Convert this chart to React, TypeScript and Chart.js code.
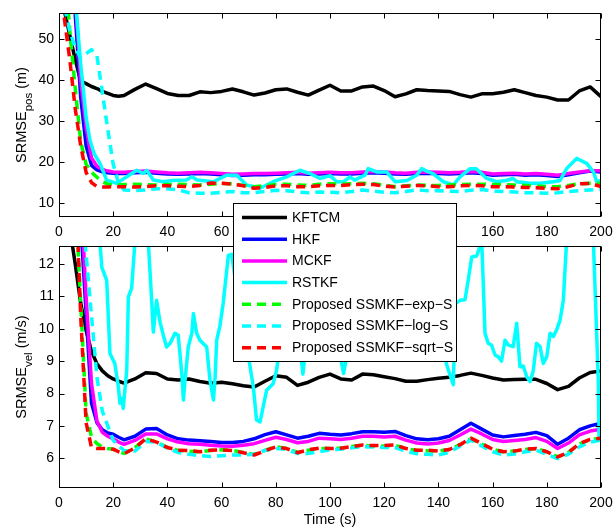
import React, { useEffect, useRef } from "react";
import { Chart, registerables } from "chart.js";

Chart.register(...registerables);

// ---------------- data ----------------
const TIME = [0, 2, 4, 6, 8, 10, 12, 14, 16, 18, 20, 22, 24, 28, 32, 36, 40, 44, 48, 52, 56, 60, 64, 68, 72, 76, 80, 84, 88, 92, 96, 100, 104, 108, 112, 116, 120, 124, 128, 132, 136, 140, 144, 148, 152, 156, 160, 164, 168, 172, 176, 180, 184, 188, 192, 196, 200];

const X_TICKS = [0, 20, 40, 60, 80, 100, 120, 140, 160, 180, 200];
const POS_TICKS = [10, 20, 30, 40, 50];
const VEL_TICKS = [6, 7, 8, 9, 10, 11, 12];

const SERIES_NAMES = ["KFTCM", "HKF", "MCKF", "RSTKF", "Proposed SSMKF\u2212exp\u2212S", "Proposed SSMKF\u2212log\u2212S", "Proposed SSMKF\u2212sqrt\u2212S"];

// position (m)
const KFTCM_POS = [62, 57, 51, 45, 39.8, 39.2, 38.5, 38, 37.3, 36.8, 36.3, 36.1, 36.3, 37.8, 39.1, 38, 36.8, 36.3, 36.3, 37.2, 37.0, 37.3, 37.9, 37.2, 36.4, 36.9, 37.7, 37.9, 37.1, 36.4, 37.6, 38.8, 37.4, 37.4, 38.4, 38.6, 37.5, 36.0, 36.7, 37.7, 37.5, 37.4, 37.3, 36.5, 35.9, 36.7, 36.7, 37.1, 37.7, 37.0, 36.3, 35.9, 35.2, 35.2, 37.4, 38.4, 36.0];
const HKF_POS = [150, 110, 75, 56, 36, 24, 19.2, 18.1, 17.6, 17.4, 17.3, 17.2, 17.2, 17.4, 17.5, 17.3, 17.1, 17.0, 17.1, 17.2, 17.1, 16.9, 16.7, 16.8, 16.9, 16.9, 17.0, 17.1, 17.2, 17.0, 17.1, 17.2, 17.1, 17.1, 17.3, 17.4, 17.3, 17.1, 17.0, 17.2, 17.3, 17.2, 17.1, 17.2, 17.4, 17.2, 16.8, 16.9, 17.0, 16.8, 16.9, 16.7, 16.5, 16.9, 17.4, 17.8, 17.6];
const MCKF_POS = [160, 120, 82, 60, 40, 28.5, 21, 19, 18.2, 17.8, 17.6, 17.5, 17.5, 17.7, 17.8, 17.6, 17.4, 17.3, 17.4, 17.5, 17.4, 17.2, 17.0, 17.1, 17.2, 17.2, 17.3, 17.4, 17.5, 17.3, 17.4, 17.5, 17.4, 17.4, 17.6, 17.7, 17.6, 17.4, 17.3, 17.5, 17.6, 17.5, 17.4, 17.5, 17.7, 17.5, 17.1, 17.2, 17.3, 17.1, 17.2, 17.0, 16.8, 17.2, 17.6, 17.9, 17.9];
const RSTKF_POS_TIME = [0, 4, 6, 8, 10, 11.4, 13, 15.1, 17.6, 21.3, 25, 28.7, 31.1, 32.4, 34.8, 38.5, 42, 47, 49, 51, 57, 61.9, 65.6, 69.2, 74.2, 79, 84, 88.9, 92.6, 96.3, 100, 102.5, 105, 107.4, 109, 112.9, 114.1, 117.2, 120.9, 124, 128.4, 132, 133.8, 136.3, 138, 141.8, 145.5, 148, 151.7, 154, 157.8, 161.5, 165, 167.6, 169, 173.8, 177.5, 182.4, 184.9, 187.3, 191, 194.7, 197.2, 198.4, 200];
const RSTKF_POS = [150, 80, 60, 44, 31, 25.4, 22, 19.7, 15.6, 14.8, 16.4, 18, 17.2, 18, 15.6, 15.2, 15.5, 15.6, 16.4, 15.6, 15.2, 16.8, 16.8, 14.4, 13.6, 15.2, 16.4, 18, 17.2, 16, 16.7, 15.2, 15.2, 16.4, 15.6, 16.8, 18.4, 17.6, 17.6, 15.2, 15.5, 16.8, 18.4, 17.6, 17.2, 15.2, 14.4, 16.4, 18.4, 18.4, 16, 15.2, 15.5, 16, 15.2, 14.8, 14.8, 15.2, 15.5, 18.4, 20.9, 19.7, 17.6, 15.2, 15.5];
const EXP_POS = [90, 70, 52, 38, 25, 19.5, 17.5, 16.3, 15.2, 14.6, 14.4, 14.4, 14.5, 14.6, 14.5, 14.4, 14.5, 14.6, 14.5, 14.4, 14.6, 14.8, 14.7, 14.3, 14.0, 14.2, 14.5, 14.6, 14.4, 14.3, 14.6, 14.7, 14.6, 14.7, 14.8, 14.7, 14.4, 14.0, 14.2, 14.4, 14.3, 14.3, 14.4, 14.5, 14.6, 14.6, 14.5, 14.5, 14.4, 14.3, 14.1, 14.0, 14.0, 14.3, 14.7, 14.8, 14.8];
const LOG_POS = [65, 58, 52, 48, 45.5, 46.5, 47.5, 46, 37, 28, 19.5, 14.8, 13.2, 13.0, 13.2, 13.5, 13.5, 13.2, 12.5, 12.4, 12.4, 12.6, 12.8, 12.5, 12.5, 12.8, 13.1, 13.0, 12.7, 12.5, 12.7, 12.6, 12.5, 12.8, 13.2, 12.9, 12.6, 12.5, 12.8, 13.2, 13.0, 13.0, 12.9, 12.8, 13.1, 13.3, 12.9, 12.8, 12.7, 12.5, 12.5, 12.4, 12.5, 12.8, 13.0, 13.2, 13.3];
const SQRT_POS = [70, 55, 45, 33, 24, 17.5, 15, 14.0, 13.9, 13.9, 14.0, 14.0, 14.0, 13.9, 14.0, 14.2, 14.2, 14.1, 14.0, 14.3, 14.9, 14.8, 14.6, 14.2, 13.6, 13.8, 14.2, 14.2, 14.0, 14.0, 14.2, 14.3, 14.3, 14.5, 14.6, 14.5, 14.1, 13.9, 14.1, 14.3, 14.2, 14.0, 14.0, 14.2, 14.3, 14.2, 14.0, 14.0, 13.9, 13.8, 13.7, 13.6, 13.5, 14.0, 14.7, 14.8, 14.0];

// velocity (m/s)
const KFTCM_VEL = [15.5, 14.3, 13.1, 12.0, 10.8, 9.95, 9.3, 8.92, 8.7, 8.55, 8.45, 8.38, 8.32, 8.45, 8.64, 8.62, 8.45, 8.42, 8.45, 8.37, 8.32, 8.35, 8.3, 8.24, 8.2, 8.38, 8.55, 8.5, 8.25, 8.35, 8.5, 8.6, 8.45, 8.42, 8.6, 8.58, 8.52, 8.46, 8.38, 8.38, 8.43, 8.47, 8.5, 8.56, 8.63, 8.56, 8.48, 8.42, 8.43, 8.44, 8.44, 8.31, 8.12, 8.22, 8.48, 8.65, 8.7];
const HKF_VEL = [40, 30, 22, 16.5, 13.3, 10.5, 7.7, 7.1, 6.88, 6.78, 6.74, 6.65, 6.57, 6.68, 6.9, 6.92, 6.72, 6.6, 6.56, 6.54, 6.52, 6.49, 6.49, 6.52, 6.6, 6.73, 6.82, 6.72, 6.62, 6.68, 6.77, 6.74, 6.72, 6.76, 6.82, 6.82, 6.8, 6.83, 6.7, 6.6, 6.57, 6.6, 6.68, 6.88, 7.08, 6.9, 6.72, 6.66, 6.7, 6.74, 6.8, 6.7, 6.43, 6.62, 6.88, 7.0, 7.08];
const MCKF_VEL = [42, 32, 24, 18, 14.2, 11.0, 8.3, 7.15, 6.8, 6.68, 6.6, 6.5, 6.43, 6.55, 6.75, 6.75, 6.6, 6.5, 6.45, 6.43, 6.4, 6.38, 6.37, 6.4, 6.45, 6.55, 6.65, 6.58, 6.48, 6.52, 6.62, 6.6, 6.58, 6.62, 6.68, 6.68, 6.66, 6.68, 6.56, 6.47, 6.44, 6.47, 6.55, 6.72, 6.9, 6.75, 6.58, 6.52, 6.55, 6.58, 6.64, 6.52, 6.3, 6.47, 6.72, 6.84, 6.9];
const RSTKF_VEL_TIME = [0, 10, 15.1, 15.8, 17.6, 18.8, 20.6, 21.9, 22.5, 23.1, 23.7, 24.3, 25, 25.6, 26.8, 28.2, 32.8, 34.2, 34.8, 36, 37.3, 38.5, 39.7, 41, 42.8, 44, 45.3, 45.9, 46.5, 47.7, 49, 49.6, 50.8, 52, 54.5, 55.7, 57, 57.6, 58.2, 59.4, 60.6, 62.5, 63.7, 66, 69, 71.7, 72.9, 74.2, 76.6, 79, 80.3, 83, 86, 89, 90, 91, 95, 99, 103.5, 105, 106.5, 110, 115, 120, 125, 130, 135, 139, 141.5, 143, 145.5, 146.3, 148, 149.8, 151, 152.3, 154.1, 155.4, 156, 157.2, 158.4, 159.6, 160.9, 162, 163.3, 164.6, 165.8, 167.6, 168.9, 170.1, 171.3, 172.6, 173.8, 175, 176.2, 177.5, 178.7, 180, 181.2, 182.4, 183.6, 184.9, 186.1, 187.3, 189, 196, 197.2, 199, 199.3, 200];
const RSTKF_VEL = [30, 18, 12.7, 11.9, 11.5, 9.24, 8.93, 8.21, 7.7, 7.85, 7.54, 8.1, 8.72, 10.99, 11.25, 12.9, 12.9, 10.88, 9.9, 10.88, 10.2, 9.8, 9.44, 9.55, 9.86, 9.8, 8.62, 7.8, 8.4, 9.44, 9.86, 10.47, 9.86, 9.65, 9.44, 8.42, 7.8, 8.5, 9.65, 10.1, 10.8, 12.27, 12.3, 11.0, 9.6, 8.21, 7.18, 7.12, 8.1, 8.3, 8.72, 10.5, 9.8, 9.4, 8.6, 9.4, 11.2, 10.3, 9.3, 8.62, 9.3, 11.0, 10.4, 11.6, 10.5, 11.2, 10.3, 10.6, 9.8, 8.9, 8.27, 10.78, 10.88, 10.9, 11.5, 12.22, 12.25, 12.56, 12.7, 9.86, 9.55, 9.5, 9.19, 9.14, 9.0, 9.65, 9.5, 9.45, 10.17, 8.83, 8.85, 8.52, 8.37, 8.7, 9.55, 9.45, 8.93, 9.14, 9.86, 9.76, 9.96, 10.27, 10.88, 12.7, 14, 14, 12.7, 8.42, 6.6, 6.55];
const EXP_VEL = [38, 27, 19.5, 14.3, 10.8, 7.4, 6.65, 6.45, 6.35, 6.3, 6.28, 6.2, 6.15, 6.33, 6.6, 6.5, 6.33, 6.24, 6.22, 6.2, 6.24, 6.26, 6.24, 6.18, 6.12, 6.24, 6.36, 6.3, 6.18, 6.25, 6.3, 6.3, 6.31, 6.36, 6.4, 6.38, 6.38, 6.4, 6.3, 6.24, 6.23, 6.22, 6.27, 6.42, 6.6, 6.44, 6.28, 6.2, 6.22, 6.27, 6.3, 6.2, 6.04, 6.18, 6.44, 6.57, 6.62];
const LOG_VEL = [40, 28, 20, 16, 14.2, 12.3, 10.4, 8.5, 7.45, 7.0, 6.56, 6.38, 6.24, 6.22, 6.52, 6.5, 6.3, 6.18, 6.12, 6.08, 6.05, 6.08, 6.1, 6.1, 6.12, 6.24, 6.3, 6.27, 6.15, 6.15, 6.2, 6.26, 6.28, 6.32, 6.36, 6.35, 6.33, 6.33, 6.22, 6.14, 6.12, 6.1, 6.18, 6.38, 6.56, 6.38, 6.2, 6.1, 6.13, 6.2, 6.25, 6.12, 5.99, 6.13, 6.35, 6.5, 6.56];
const SQRT_VEL = [40, 28, 20, 15, 10.4, 7.1, 6.33, 6.3, 6.3, 6.3, 6.28, 6.2, 6.14, 6.32, 6.6, 6.5, 6.33, 6.25, 6.24, 6.2, 6.25, 6.26, 6.24, 6.17, 6.1, 6.23, 6.35, 6.3, 6.17, 6.26, 6.31, 6.3, 6.31, 6.36, 6.41, 6.39, 6.39, 6.41, 6.3, 6.25, 6.25, 6.22, 6.27, 6.42, 6.62, 6.45, 6.28, 6.2, 6.22, 6.28, 6.3, 6.2, 6.04, 6.18, 6.45, 6.58, 6.62];

// ---------------- styles ----------------
const COLORS = ["#000000", "#0000ff", "#ff00ff", "#00ffff", "#00ff00", "#00ffff", "#ff0000"];
const DASHED = [false, false, false, false, true, true, true];
const DASH = [9, 6];
const LINE_W = 3.5;
const FONT = '"Liberation Sans", Arial, Helvetica, sans-serif';
const TICK_LEN = 5;
const W = 613;

type Series = { xs: number[]; ys: number[] };

function makeDatasets(series: Series[]) {
  return series.map((s, i) => ({
    label: SERIES_NAMES[i],
    data: s.xs.map((x, j) => ({ x, y: s.ys[j] })),
    borderColor: COLORS[i],
    backgroundColor: COLORS[i],
    borderWidth: LINE_W,
    borderDash: DASHED[i] ? DASH : [],
    borderJoinStyle: "round",
    borderCapStyle: "butt",
    pointRadius: 0,
    pointHoverRadius: 0,
    fill: false,
    tension: 0,
    clip: 0,
    order: SERIES_NAMES.length - i,
  }));
}

function drawYTitle(ctx: CanvasRenderingContext2D, x: number, cy: number, main: string, sub: string, tail: string) {
  ctx.save();
  ctx.translate(x, cy);
  ctx.rotate(-Math.PI / 2);
  ctx.fillStyle = "#000";
  ctx.textAlign = "left";
  ctx.textBaseline = "alphabetic";
  ctx.font = `14.5px ${FONT}`;
  const wMain = ctx.measureText(main).width;
  const wTail = ctx.measureText(tail).width;
  ctx.font = `11.5px ${FONT}`;
  const wSub = ctx.measureText(sub).width;
  let cx = -(wMain + wSub + wTail) / 2;
  ctx.font = `14.5px ${FONT}`;
  ctx.fillText(main, cx, 0);
  cx += wMain;
  ctx.font = `11.5px ${FONT}`;
  ctx.fillText(sub, cx, 6);
  cx += wSub;
  ctx.font = `14.5px ${FONT}`;
  ctx.fillText(tail, cx, 0);
  ctx.restore();
}

type Decor = {
  yTicks: number[];
  titleMain: string;
  titleSub: string;
  titleTail: string;
  xTitle: boolean;
  legend: boolean;
};

function makeDecorPlugin(d: Decor) {
  return {
    id: "decor",
    afterDraw(chart: any) {
      const { ctx, chartArea: a } = chart;
      const xs = chart.scales.x;
      const ys = chart.scales.y;
      ctx.save();
      ctx.strokeStyle = "#000";
      ctx.lineWidth = 1;
      ctx.setLineDash([]);
      const l = Math.round(a.left) + 0.5;
      const r = Math.round(a.right) - 0.5;
      const t = Math.round(a.top) + 0.5;
      const b = Math.round(a.bottom) - 0.5;
      ctx.strokeRect(l, t, r - l, b - t);
      ctx.beginPath();
      for (const v of X_TICKS) {
        const p = Math.round(xs.getPixelForValue(v)) + 0.5;
        ctx.moveTo(p, b);
        ctx.lineTo(p, b - TICK_LEN);
        ctx.moveTo(p, t);
        ctx.lineTo(p, t + TICK_LEN);
      }
      for (const v of d.yTicks) {
        const p = Math.round(ys.getPixelForValue(v)) + 0.5;
        ctx.moveTo(l, p);
        ctx.lineTo(l + TICK_LEN, p);
        ctx.moveTo(r, p);
        ctx.lineTo(r - TICK_LEN, p);
      }
      ctx.stroke();

      drawYTitle(ctx, 25.5, (a.top + a.bottom) / 2, d.titleMain, d.titleSub, d.titleTail);

      if (d.xTitle) {
        ctx.fillStyle = "#000";
        ctx.font = `14.5px ${FONT}`;
        ctx.textAlign = "center";
        ctx.textBaseline = "alphabetic";
        ctx.fillText("Time (s)", (a.left + a.right) / 2, a.bottom + 36);
      }

      if (d.legend) {
        const x0 = 233, y0 = 203, x1 = 456, y1 = 361;
        ctx.fillStyle = "#fff";
        ctx.fillRect(x0, y0, x1 - x0, y1 - y0);
        ctx.strokeStyle = "#000";
        ctx.lineWidth = 1;
        ctx.strokeRect(x0 + 0.5, y0 + 0.5, x1 - x0, y1 - y0);
        ctx.font = `14px ${FONT}`;
        ctx.textAlign = "left";
        ctx.textBaseline = "middle";
        SERIES_NAMES.forEach((name, i) => {
          const y = 217.5 + i * 21.7;
          ctx.save();
          ctx.strokeStyle = COLORS[i];
          ctx.lineWidth = LINE_W;
          ctx.setLineDash(DASHED[i] ? DASH : []);
          ctx.beginPath();
          ctx.moveTo(242, y);
          ctx.lineTo(287, y);
          ctx.stroke();
          ctx.restore();
          ctx.fillStyle = "#000";
          ctx.fillText(name, 292, y + 0.5);
        });
      }
      ctx.restore();
    },
  };
}

function makeConfig(opts: {
  series: Series[];
  yMin: number;
  yMax: number;
  yTicks: number[];
  padTop: number;
  xAxisHeight: number;
  decor: Decor;
}) {
  return {
    type: "line",
    data: { datasets: makeDatasets(opts.series) },
    options: {
      responsive: false,
      animation: false,
      devicePixelRatio: 1,
      events: [],
      layout: { padding: { top: opts.padTop, right: 12, left: 0, bottom: 0 } },
      plugins: { legend: { display: false }, tooltip: { enabled: false }, title: { display: false } },
      scales: {
        x: {
          type: "linear",
          min: 0,
          max: 200,
          afterBuildTicks: (s: any) => {
            s.ticks = X_TICKS.map((v) => ({ value: v }));
          },
          afterFit: (s: any) => {
            s.height = opts.xAxisHeight;
          },
          grid: { display: false, drawTicks: false },
          border: { display: false },
          ticks: {
            color: "#000",
            font: { family: FONT, size: 14, lineHeight: 2.1 },
            padding: 0,
            maxRotation: 0,
            autoSkip: false,
            callback: (v: any) => String(v),
          },
        },
        y: {
          type: "linear",
          min: opts.yMin,
          max: opts.yMax,
          afterBuildTicks: (s: any) => {
            s.ticks = opts.yTicks.map((v) => ({ value: v }));
          },
          afterFit: (s: any) => {
            s.width = 59;
          },
          grid: { display: false, drawTicks: false },
          border: { display: false },
          ticks: {
            color: "#000",
            font: { family: FONT, size: 14, lineHeight: 1 },
            padding: 5,
            autoSkip: false,
            callback: (v: any) => String(v),
          },
        },
      },
    },
    plugins: [makeDecorPlugin(opts.decor)],
  } as any;
}

export default function App() {
  const topRef = useRef<HTMLCanvasElement | null>(null);
  const botRef = useRef<HTMLCanvasElement | null>(null);

  useEffect(() => {
    const posSeries: Series[] = [
      { xs: TIME, ys: KFTCM_POS },
      { xs: TIME, ys: HKF_POS },
      { xs: TIME, ys: MCKF_POS },
      { xs: RSTKF_POS_TIME, ys: RSTKF_POS },
      { xs: TIME, ys: EXP_POS },
      { xs: TIME, ys: LOG_POS },
      { xs: TIME, ys: SQRT_POS },
    ];
    const velSeries: Series[] = [
      { xs: TIME, ys: KFTCM_VEL },
      { xs: TIME, ys: HKF_VEL },
      { xs: TIME, ys: MCKF_VEL },
      { xs: RSTKF_VEL_TIME, ys: RSTKF_VEL },
      { xs: TIME, ys: EXP_VEL },
      { xs: TIME, ys: LOG_VEL },
      { xs: TIME, ys: SQRT_VEL },
    ];
    const top = new Chart(
      topRef.current as HTMLCanvasElement,
      makeConfig({
        series: posSeries,
        yMin: 6.57,
        yMax: 56.48,
        yTicks: POS_TICKS,
        padTop: 13,
        xAxisHeight: 28,
        decor: { yTicks: POS_TICKS, titleMain: "SRMSE", titleSub: "pos", titleTail: " (m)", xTitle: false, legend: false },
      })
    );
    const bot = new Chart(
      botRef.current as HTMLCanvasElement,
      makeConfig({
        series: velSeries,
        yMin: 5.08,
        yMax: 12.56,
        yTicks: VEL_TICKS,
        padTop: 246,
        xAxisHeight: 39,
        decor: { yTicks: VEL_TICKS, titleMain: "SRMSE", titleSub: "vel", titleTail: " (m/s)", xTitle: true, legend: true },
      })
    );
    return () => {
      top.destroy();
      bot.destroy();
    };
  }, []);

  return (
    <div style={{ position: "absolute", left: 0, top: 0, width: W, height: 527, background: "#fff", overflow: "hidden" }}>
      <canvas ref={topRef} width={W} height={245} style={{ position: "absolute", left: 0, top: 0 }} />
      <canvas ref={botRef} width={W} height={527} style={{ position: "absolute", left: 0, top: 0 }} />
    </div>
  );
}
